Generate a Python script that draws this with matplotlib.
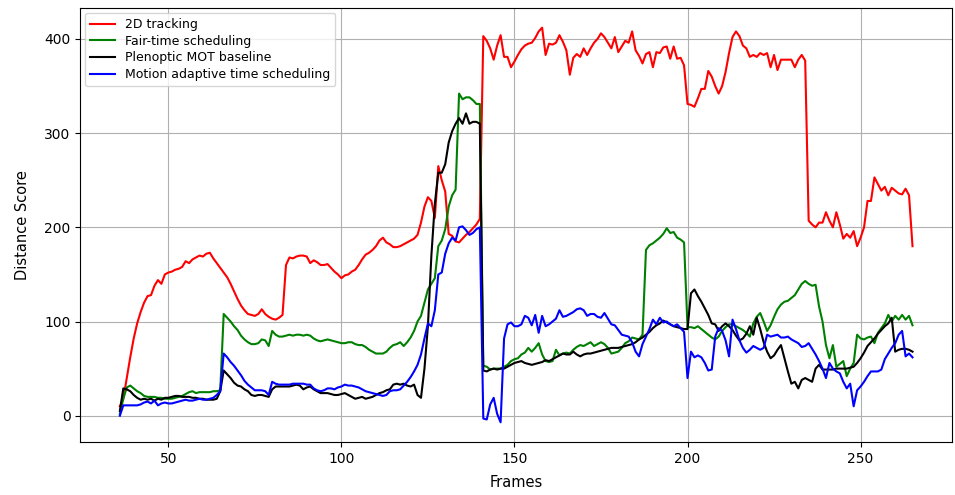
import numpy as np
import matplotlib

matplotlib.use("Agg")
import matplotlib.pyplot as plt

frames = np.arange(36, 266)

tracking_2d = [
    10, 18, 40, 62, 82, 98, 110, 120, 127, 128,
    138, 144, 140, 150, 152, 153, 155, 156, 158, 164,
    162, 166, 168, 170, 169, 172, 173, 167, 162, 157,
    152, 147, 140, 132, 124, 117, 112, 108, 107, 106,
    108, 113, 108, 105, 103, 102, 104, 107, 160, 168,
    167, 169, 170, 170, 169, 162, 165, 163, 160, 160,
    161, 157, 153, 150, 146, 149, 150, 153, 155, 160,
    166, 171, 173, 176, 180, 186, 189, 184, 182, 179,
    179, 180, 182, 184, 186, 188, 192, 205, 222, 232,
    228, 210, 265, 250, 238, 193, 191, 185, 184, 188,
    192, 195, 199, 203, 209, 403, 398, 390, 378, 393,
    404, 381, 381, 370, 376, 383, 389, 393, 395, 396,
    401, 408, 412, 383, 395, 394, 396, 404, 397, 388,
    362, 380, 384, 381, 390, 383, 390, 396, 400, 406,
    402, 396, 390, 402, 386, 392, 398, 396, 408, 388,
    382, 374, 384, 386, 370, 386, 385, 391, 392, 379,
    392, 379, 380, 372, 331, 330, 328, 337, 347, 347,
    366, 360, 350, 342, 350, 365, 385, 402, 408, 403,
    393, 390, 381, 383, 381, 385, 383, 385, 370, 383,
    367, 378, 378, 378, 378, 370, 378, 383, 377, 207,
    203, 200, 205, 205, 216, 207, 200, 216, 203, 188,
    193, 189, 196, 180, 189, 200, 228, 228, 253, 246,
    239, 243, 234, 242, 239, 236, 235, 241, 234, 180,
]

fair_time = [
    2, 18, 30, 32, 29, 26, 24, 21, 20, 20,
    20, 19, 19, 18, 18, 18, 19, 20, 21, 23,
    25, 26, 24, 25, 25, 25, 25, 26, 26, 27,
    108, 104, 100, 95, 91, 85, 81, 78, 76, 76,
    77, 81, 80, 74, 90, 86, 84, 84, 85, 86,
    85, 86, 86, 85, 86, 85, 82, 80, 79, 80,
    81, 80, 79, 78, 77, 77, 78, 78, 76, 75,
    75, 73, 70, 68, 66, 66, 66, 68, 72, 75,
    76, 78, 74, 78, 83, 90, 100, 106, 120, 134,
    140, 146, 180, 186, 198, 222, 234, 240, 342, 336,
    338, 338, 335, 331, 331, 53, 52, 49, 50, 50,
    50, 52, 54, 58, 60, 61, 65, 67, 72, 68,
    72, 77, 65, 58, 57, 58, 70, 64, 66, 67,
    66, 70, 73, 75, 74, 76, 78, 74, 76, 78,
    76, 72, 66, 67, 68, 72, 77, 79, 83, 82,
    81, 86, 176, 181, 183, 186, 189, 193, 199, 194,
    195, 189, 187, 184, 94, 94, 93, 95, 92, 89,
    86, 83, 81, 84, 90, 94, 97, 97, 95, 93,
    91, 88, 84, 98, 105, 109, 100, 90, 96, 105,
    113, 118, 121, 122, 125, 128, 134, 140, 143, 140,
    138, 139, 116, 100, 75, 61, 75, 52, 55, 58,
    42, 50, 56, 86, 82, 81, 83, 84, 77, 88,
    93, 98, 107, 100, 106, 102, 107, 102, 106, 96,
]

plenoptic = [
    5, 29, 28, 26, 22, 19, 17, 18, 17, 18,
    16, 18, 17, 19, 19, 20, 21, 21, 20, 20,
    20, 19, 19, 18, 18, 17, 17, 17, 18, 26,
    48, 44, 40, 35, 32, 31, 28, 26, 22, 21,
    22, 22, 21, 20, 28, 31, 31, 31, 31, 31,
    32, 33, 32, 28, 30, 31, 28, 26, 24, 24,
    24, 23, 22, 22, 23, 24, 22, 20, 18, 19,
    20, 18, 19, 20, 22, 24, 25, 27, 28, 33,
    34, 33, 34, 32, 31, 33, 22, 19, 50, 95,
    170, 225, 258, 258, 267, 290, 302, 310, 316, 310,
    321, 310, 312, 312, 310, 48, 47, 49, 50, 49,
    50, 50, 52, 54, 56, 57, 58, 56, 55, 54,
    55, 56, 57, 59, 58, 60, 62, 64, 66, 65,
    65, 68, 65, 63, 65, 66, 66, 67, 68, 69,
    70, 71, 72, 72, 72, 73, 74, 75, 76, 78,
    81, 83, 86, 89, 93, 96, 98, 101, 99, 97,
    95, 94, 93, 92, 92, 130, 134, 127, 121, 114,
    107, 98, 97, 90, 95, 98, 95, 91, 85, 80,
    82, 87, 95, 86, 104, 92, 78, 68, 61, 64,
    70, 75, 61, 47, 34, 36, 29, 38, 40, 38,
    36, 50, 54, 49, 49, 49, 49, 50, 50, 50,
    50, 51, 52, 56, 61, 67, 74, 78, 82, 87,
    91, 95, 98, 104, 68, 70, 71, 71, 70, 68,
]

motion_adaptive = [
    0, 11, 11, 11, 11, 11, 12, 14, 15, 13,
    16, 11, 13, 14, 13, 13, 14, 15, 16, 17,
    16, 16, 17, 18, 17, 17, 18, 19, 22, 26,
    66, 62, 57, 53, 48, 43, 37, 33, 30, 27,
    27, 27, 26, 22, 36, 34, 33, 33, 33, 33,
    34, 34, 34, 34, 33, 33, 29, 27, 26, 27,
    29, 29, 28, 30, 31, 33, 32, 32, 31, 30,
    28, 26, 25, 24, 23, 22, 21, 22, 26, 27,
    27, 28, 32, 36, 41, 47, 54, 65, 82, 98,
    95, 112, 150, 152, 172, 183, 189, 186, 200, 201,
    197, 192, 194, 198, 200, -3, -4, 12, 19, 2,
    -7, 82, 97, 99, 95, 95, 97, 106, 104, 96,
    107, 88, 106, 95, 97, 100, 103, 112, 105, 106,
    108, 110, 113, 114, 112, 106, 108, 108, 105, 104,
    109, 103, 97, 96, 91, 86, 85, 84, 78, 68,
    63, 76, 84, 92, 102, 97, 104, 99, 100, 97,
    95, 97, 93, 89, 40, 68, 62, 64, 62, 56,
    48, 49, 84, 93, 90, 80, 63, 102, 92, 80,
    72, 67, 70, 74, 72, 70, 72, 86, 84, 85,
    86, 83, 83, 84, 81, 79, 77, 73, 74, 77,
    71, 65, 58, 50, 40, 56, 50, 47, 45, 36,
    29, 34, 10, 27, 31, 36, 42, 47, 47, 47,
    49, 60, 66, 72, 77, 86, 90, 63, 66, 62,
]

series = [
    ("2D tracking", tracking_2d, "red"),
    ("Fair-time scheduling", fair_time, "green"),
    ("Plenoptic MOT baseline", plenoptic, "black"),
    ("Motion adaptive time scheduling", motion_adaptive, "blue"),
]

fig, ax = plt.subplots(figsize=(9.55, 4.95), dpi=100)
fig.subplots_adjust(left=0.084, right=0.997, bottom=0.107, top=0.984)

for label, values, color in series:
    ax.plot(frames, values, color=color, label=label)

ax.set_xlabel("Frames", fontsize=10.5, labelpad=7)
ax.set_ylabel("Distance Score", fontsize=10.5, labelpad=10)
ax.grid(True)
ax.legend(loc="upper left", fontsize=9, labelspacing=0.3, borderaxespad=0.4)

fig.savefig("out.png", dpi=100)
